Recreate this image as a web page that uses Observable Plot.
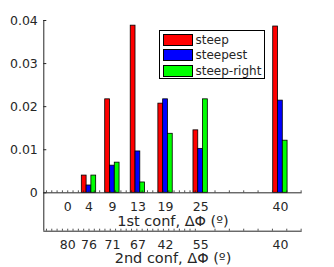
<!DOCTYPE html>
<html><head><meta charset="utf-8">
<script src="https://cdn.jsdelivr.net/npm/d3@7"></script>
<script src="https://cdn.jsdelivr.net/npm/@observablehq/plot@0.6"></script>
<style>
body{margin:0;background:#fff;font-family:"DejaVu Sans",sans-serif}
#c{position:relative;width:334px;height:267px}
#legend{position:absolute;left:158.5px;top:29.5px;width:104px;height:47px;border:1px solid #000;background:#fff;font-size:12px;color:#262626}
.row{position:absolute;left:3px;height:12px;display:flex;align-items:center}
.sw{width:28px;height:10px;border:1px solid #000;margin-right:3px}
</style>
</head><body><div id="c"></div><script>
const positions = [0, 4, 8.4, 13.2, 18.4, 25, 40];
const conf1Labels = ["0", "4", "9", "13", "19", "25", "40"];
const conf2Labels = ["80", "76", "71", "67", "42", "55", "40"];
const series = ["steep", "steepest", "steep-right"];
const colors = ["#ff0000", "#0000ff", "#00ff00"];
const groupPos = [4, 8.4, 13.2, 18.4, 25, 40];
const steep = [0.0040, 0.0217, 0.0388, 0.0207, 0.0145, 0.0386];
const steepest = [0.0017, 0.0063, 0.0096, 0.0217, 0.0102, 0.0214];
const steepRight = [0.0040, 0.0070, 0.0024, 0.0137, 0.0217, 0.0121];
const yTicks = [0, 0.01, 0.02, 0.03, 0.04];

const values = [steep, steepest, steepRight];
const barW = 0.9;
const bars = [];
groupPos.forEach((g, i) => {
  values.forEach((arr, s) => {
    const c = g + (s - 1) * barW;
    bars.push({x1: c - barW / 2, x2: c + barW / 2, y: arr[i], s: series[s]});
  });
});
const xDomain = [-4.5, 44.1];
const yDomain = [-0.00891, 0.04];
const minor = d3.range(-4, 25, 1).concat(d3.range(27.7, 44, 2.7));
const idx = positions.map((d, i) => i);

const chart = Plot.plot({
  width: 334, height: 267,
  marginLeft: 43.3, marginRight: 32.3, marginTop: 20, marginBottom: 36.3,
  style: {fontFamily: "DejaVu Sans, sans-serif", color: "#262626", background: "#fff"},
  x: {domain: xDomain, axis: null},
  y: {domain: yDomain, axis: null},
  color: {domain: series, range: colors},
  marks: [
    Plot.rectY(bars, {x1: "x1", x2: "x2", y1: 0, y2: "y", fill: "s", stroke: "#000", strokeWidth: 0.8}),
    Plot.ruleY([0], {stroke: "#262626", strokeWidth: 1}),
    Plot.ruleY([yDomain[0]], {stroke: "#262626", strokeWidth: 1}),
    Plot.ruleX([xDomain[0]], {stroke: "#262626", strokeWidth: 1}),
    Plot.ruleX(minor, {x: d => d, y1: 0, y2: 0, insetTop: -2, stroke: "#262626", strokeWidth: 0.8}),
    Plot.ruleX(minor, {x: d => d, y1: yDomain[0], y2: yDomain[0], insetTop: -2, stroke: "#262626", strokeWidth: 0.8}),
    Plot.axisY(yTicks, {anchor: "left", label: null, tickSize: -3, tickPadding: 9, fontSize: 12.5, tickFormat: d => d === 0 ? "0" : d3.format(".2f")(d), stroke: "#262626"}),
    Plot.text(idx, {x: i => positions[i], text: i => conf1Labels[i], frameAnchor: "bottom", lineAnchor: "middle", dy: -24, fontSize: 12.5, fill: "#262626"}),
    Plot.text(idx, {x: i => positions[i], text: i => conf2Labels[i], frameAnchor: "bottom", lineAnchor: "middle", dy: 14, fontSize: 12.5, fill: "#262626"}),
    Plot.text(["1st conf, ΔΦ (º)"], {frameAnchor: "bottom", lineAnchor: "middle", dy: -10, fontSize: 14.5, fill: "#262626"}),
    Plot.text(["2nd conf, ΔΦ (º)"], {frameAnchor: "bottom", lineAnchor: "middle", dy: 27.5, fontSize: 14.5, fill: "#262626"})
  ]
});
const c = document.getElementById("c");
c.appendChild(chart);
const lg = document.createElement("div");
lg.id = "legend";
series.forEach((s, i) => {
  const r = document.createElement("div");
  r.className = "row";
  r.style.top = (3 + i * 15.7) + "px";
  r.innerHTML = `<span class="sw" style="background:${colors[i]}"></span><span>${s}</span>`;
  lg.appendChild(r);
});
c.appendChild(lg);
</script></body></html>
